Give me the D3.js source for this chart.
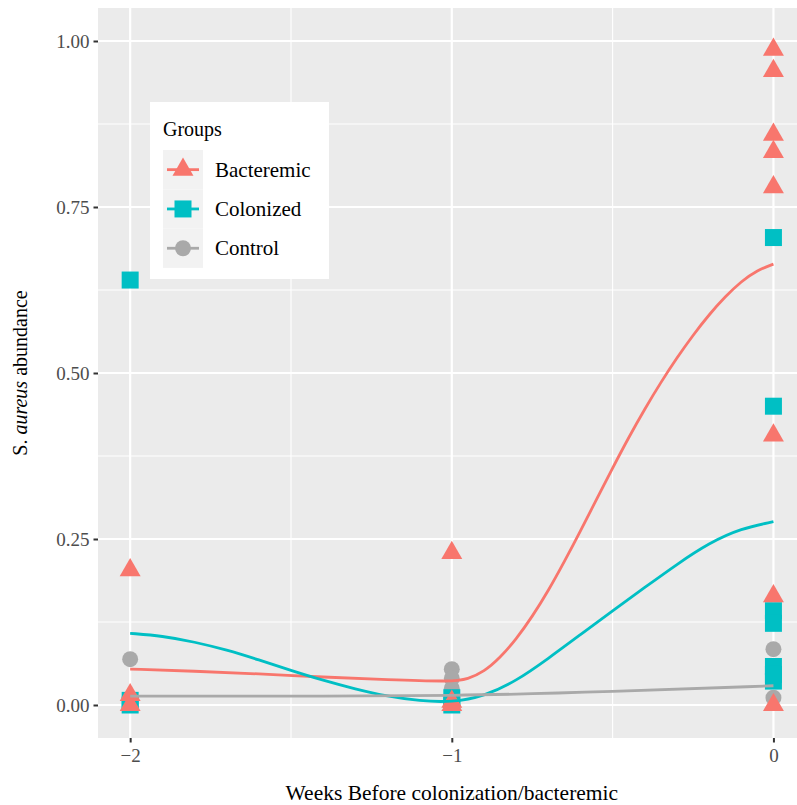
<!DOCTYPE html>
<html>
<head>
<meta charset="utf-8">
<script src="https://cdn.jsdelivr.net/npm/d3@7"></script>
<style>
  body { margin: 0; background: #fff; }
  svg { display: block; font-family: "Liberation Serif", "DejaVu Serif", serif; }
</style>
</head>
<body>
<svg id="chart"></svg>
<script>
// groups and their look
const groups = ["Bacteremic", "Colonized", "Control"];
const colors = ["#F8766D", "#00BFC4", "#A9A9A9"];

// raw points: [week, abundance]
const bacteremicPoints = [
  [-2, 0.203], [-2, 0.015], [-2, 0.0],
  [-1, 0.229], [-1, 0.005], [-1, 0.0],
  [0, 0.987], [0, 0.955], [0, 0.859], [0, 0.833], [0, 0.780],
  [0, 0.406], [0, 0.164], [0, 0.0]
];
const colonizedPoints = [
  [-2, 0.640], [-2, 0.007], [-2, 0.0],
  [-1, 0.011], [-1, 0.0],
  [0, 0.704], [0, 0.450], [0, 0.142], [0, 0.123], [0, 0.058], [0, 0.046], [0, 0.036]
];
const controlPoints = [
  [-2, 0.069], [-2, 0.0],
  [-1, 0.054], [-1, 0.040], [-1, 0.025], [-1, 0.010],
  [0, 0.084], [0, 0.011]
];

// smoothed trend: [week, abundance]
const bacteremicSmooth = [
  [-2, 0.054], [-1.8, 0.051], [-1.6, 0.047], [-1.4, 0.042], [-1.2, 0.038], [-1, 0.035],
  [-0.95, 0.039], [-0.9, 0.050], [-0.85, 0.071], [-0.8, 0.099], [-0.75, 0.133],
  [-0.7, 0.172], [-0.65, 0.216], [-0.6, 0.262], [-0.55, 0.310], [-0.5, 0.357],
  [-0.45, 0.403], [-0.4, 0.446], [-0.35, 0.486], [-0.3, 0.523], [-0.25, 0.557],
  [-0.2, 0.588], [-0.15, 0.615], [-0.1, 0.638], [-0.05, 0.655], [0, 0.664]
];
const colonizedSmooth = [
  [-2, 0.108], [-1.9, 0.104], [-1.8, 0.095], [-1.7, 0.083], [-1.6, 0.068],
  [-1.5, 0.052], [-1.4, 0.037], [-1.3, 0.024], [-1.2, 0.013], [-1.1, 0.006], [-1, 0.004],
  [-0.9, 0.013], [-0.8, 0.036], [-0.7, 0.070], [-0.6, 0.106], [-0.5, 0.142],
  [-0.4, 0.177], [-0.3, 0.212], [-0.2, 0.244], [-0.1, 0.266], [0, 0.276]
];
const controlSmooth = [
  [-2, 0.0135], [-1.5, 0.0135], [-1, 0.0135], [-0.5, 0.020], [0, 0.029]
];

const xTicks = [-2, -1, 0];
const xMinor = [-1.5, -0.5];
const yTicks = [0, 0.25, 0.5, 0.75, 1];
const yMinor = [0.125, 0.375, 0.625, 0.875];

const width = 797, height = 805;
const panel = { left: 98, top: 8, right: 805.6, bottom: 738 };

const svg = d3.select("#chart").attr("width", width).attr("height", height);

const x = d3.scaleLinear().domain([-2.1, 0.1]).range([panel.left, panel.right]);
const y = d3.scaleLinear().domain([-0.0497, 1.0497]).range([panel.bottom, panel.top]);

// panel
svg.append("rect")
  .attr("x", panel.left).attr("y", panel.top)
  .attr("width", panel.right - panel.left).attr("height", panel.bottom - panel.top)
  .attr("fill", "#EBEBEB");

const grid = svg.append("g");
grid.selectAll(".ymin").data(yMinor).enter().append("line")
  .attr("x1", panel.left).attr("x2", panel.right)
  .attr("y1", d => y(d)).attr("y2", d => y(d))
  .attr("stroke", "#fff").attr("stroke-width", 1.1);
grid.selectAll(".xmin").data(xMinor).enter().append("line")
  .attr("y1", panel.top).attr("y2", panel.bottom)
  .attr("x1", d => x(d)).attr("x2", d => x(d))
  .attr("stroke", "#fff").attr("stroke-width", 1.1);
grid.selectAll(".ymaj").data(yTicks).enter().append("line")
  .attr("x1", panel.left).attr("x2", panel.right)
  .attr("y1", d => y(d)).attr("y2", d => y(d))
  .attr("stroke", "#fff").attr("stroke-width", 2.2);
grid.selectAll(".xmaj").data(xTicks).enter().append("line")
  .attr("y1", panel.top).attr("y2", panel.bottom)
  .attr("x1", d => x(d)).attr("x2", d => x(d))
  .attr("stroke", "#fff").attr("stroke-width", 2.2);

// axes
const xAxis = svg.append("g")
  .attr("transform", `translate(0,${panel.bottom})`)
  .call(d3.axisBottom(x).tickValues(xTicks).tickSize(4.5).tickPadding(6)
    .tickFormat(d => d < 0 ? "\u2212" + Math.abs(d) : d));
const yAxis = svg.append("g")
  .attr("transform", `translate(${panel.left},0)`)
  .call(d3.axisLeft(y).tickValues(yTicks).tickSize(4.5).tickPadding(4)
    .tickFormat(d3.format(".2f")));
[xAxis, yAxis].forEach(a => {
  a.select(".domain").remove();
  a.selectAll(".tick line").attr("stroke", "#333").attr("stroke-width", 2);
  a.selectAll(".tick text").attr("fill", "#4D4D4D")
    .style("font-family", "Liberation Serif, serif").style("font-size", "19px");
});

// shapes
const sym = {
  Bacteremic: d3.symbol().type(d3.symbolTriangle).size(190),
  Colonized: d3.symbol().type(d3.symbolSquare).size(289),
  Control: d3.symbol().type(d3.symbolCircle).size(200)
};

function drawPoints(pts, g, i) {
  svg.append("g").selectAll("path").data(pts).enter().append("path")
    .attr("d", sym[g]())
    .attr("transform", d => `translate(${x(d[0])},${y(d[1])})`)
    .attr("fill", colors[i]);
}
drawPoints(controlPoints, "Control", 2);
drawPoints(colonizedPoints, "Colonized", 1);
drawPoints(bacteremicPoints, "Bacteremic", 0);

const line = d3.line().x(d => x(d[0])).y(d => y(d[1])).curve(d3.curveBasis);
[bacteremicSmooth, colonizedSmooth, controlSmooth].forEach((s, i) => {
  svg.append("path").datum(s)
    .attr("d", line)
    .attr("fill", "none")
    .attr("stroke", colors[i])
    .attr("stroke-width", 2.8);
});

// axis titles
svg.append("text")
  .attr("x", (panel.left + panel.right) / 2).attr("y", 800)
  .attr("text-anchor", "middle").attr("fill", "#000")
  .style("font-size", "21.5px")
  .text("Weeks Before colonization/bacteremic");

const yt = svg.append("text")
  .attr("transform", `translate(27,${(panel.top + panel.bottom) / 2}) rotate(-90)`)
  .attr("text-anchor", "middle").attr("fill", "#000")
  .style("font-size", "20px");
yt.append("tspan").text("S. ");
yt.append("tspan").style("font-style", "italic").text("aureus");
yt.append("tspan").text(" abundance");

// legend
const legend = svg.append("g").attr("transform", "translate(150,102)");
legend.append("rect").attr("width", 179).attr("height", 177).attr("fill", "#fff");
legend.append("text").attr("x", 13).attr("y", 34)
  .style("font-size", "20px").attr("fill", "#000").text("Groups");
const keyH = 39.3;
groups.forEach((g, i) => {
  const k = legend.append("g").attr("transform", `translate(13,${48 + i * keyH})`);
  k.append("rect").attr("width", 40).attr("height", keyH).attr("fill", "#F2F2F2");
  k.append("line").attr("x1", 4).attr("x2", 36)
    .attr("y1", keyH / 2).attr("y2", keyH / 2)
    .attr("stroke", colors[i]).attr("stroke-width", 2.8);
  k.append("path").attr("d", sym[g]())
    .attr("transform", `translate(20,${keyH / 2})`)
    .attr("fill", colors[i]);
  k.append("text").attr("x", 52).attr("y", keyH / 2 + 7)
    .style("font-size", "21px").attr("fill", "#000").text(g);
});
</script>
</body>
</html>
